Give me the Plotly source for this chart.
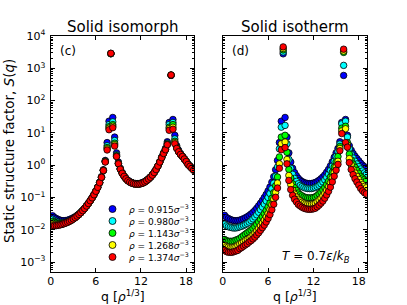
import plotly.graph_objects as go

# ---------------- data ----------------
q = [0.25, 0.5, 0.75, 1.0, 1.25, 1.5, 1.75, 2.0, 2.25, 2.5,
     2.75, 3.0, 3.25, 3.5, 3.75, 4.0, 4.25, 4.5, 4.75, 5.0,
     5.25, 5.5, 5.75, 6.0, 6.25, 6.5, 6.75, 7.0, 7.25, 7.5,
     7.75, 8.0, 8.25, 8.5, 8.75, 9.0, 9.25, 9.5, 9.75, 10.0,
     10.25, 10.5, 10.75, 11.0, 11.25, 11.5, 11.75, 12.0, 12.25, 12.5,
     12.75, 13.0, 13.25, 13.5, 13.75, 14.0, 14.25, 14.5, 14.75, 15.0,
     15.25, 15.5, 15.75, 16.0, 16.25, 16.5, 16.75, 17.0, 17.25, 17.5,
     17.75, 18.0, 18.25, 18.5, 18.75, 19.0]

densities = ["0.915", "0.980", "1.143", "1.268", "1.374"]
colors = ["#0000ff", "#00ffff", "#00ff00", "#ffff00", "#ff0000"]
y_exponents = [-3, -2, -1, 0, 1, 2, 3, 4]
x_ticks = [0, 6, 12, 18]

# Solid isomorph, S(q)
isomorph_0915 = [0.027, 0.024, 0.0222, 0.0208, 0.0198, 0.0192, 0.0190, 0.0192, 0.0198, 0.0207,
                 0.0219, 0.0234, 0.0253, 0.0277, 0.0306, 0.0345, 0.0395, 0.046, 0.055, 0.066,
                 0.080, 0.099, 0.124, 0.159, 0.21, 0.295, 0.44, 0.72, 1.4, 5.0,
                 23.0, 2800, 30.0, 7.4, 2.4, 1.25, 0.80, 0.59, 0.47, 0.39,
                 0.34, 0.31, 0.29, 0.277, 0.27, 0.268, 0.27, 0.278, 0.29, 0.31,
                 0.34, 0.38, 0.43, 0.50, 0.60, 0.74, 0.95, 1.27, 1.75, 2.4,
                 3.3, 5.3, 21.0, 600, 26.0, 8.4, 4.0, 2.9, 2.3, 1.9,
                 1.6, 1.34, 1.1, 0.95, 0.83, 0.73]
isomorph_0980 = [0.021, 0.0192, 0.018, 0.0172, 0.0167, 0.0165, 0.0166, 0.0171, 0.0178, 0.0189,
                 0.0202, 0.0220, 0.0242, 0.0268, 0.0300, 0.0340, 0.0392, 0.0457, 0.0543, 0.0652,
                 0.0793, 0.0973, 0.1215, 0.156, 0.206, 0.287, 0.425, 0.70, 1.33, 4.0,
                 18.0, 2850, 22.0, 5.8, 2.1, 1.15, 0.77, 0.57, 0.46, 0.385,
                 0.335, 0.305, 0.285, 0.272, 0.264, 0.262, 0.264, 0.272, 0.285, 0.305,
                 0.335, 0.375, 0.425, 0.495, 0.595, 0.735, 0.945, 1.26, 1.72, 2.35,
                 3.1, 4.8, 18.0, 610, 21.0, 6.5, 3.6, 2.7, 2.2, 1.87,
                 1.57, 1.32, 1.07, 0.94, 0.82, 0.72]
isomorph_1143 = [0.018, 0.0167, 0.016, 0.0156, 0.0154, 0.0155, 0.0158, 0.0165, 0.0174, 0.0186,
                 0.0200, 0.0218, 0.0240, 0.0266, 0.0299, 0.0339, 0.0391, 0.0456, 0.054, 0.065,
                 0.079, 0.097, 0.121, 0.155, 0.205, 0.285, 0.42, 0.69, 1.3, 3.5,
                 15.5, 2870, 18.0, 4.8, 1.95, 1.12, 0.76, 0.565, 0.455, 0.383,
                 0.333, 0.302, 0.282, 0.27, 0.262, 0.26, 0.262, 0.27, 0.282, 0.302,
                 0.333, 0.372, 0.423, 0.493, 0.593, 0.733, 0.943, 1.26, 1.71, 2.33,
                 3.05, 4.5, 15.0, 615, 18.0, 5.5, 3.5, 2.65, 2.18, 1.86,
                 1.56, 1.31, 1.06, 0.93, 0.81, 0.71]
isomorph_1268 = [0.015, 0.0145, 0.0143, 0.0143, 0.0145, 0.0149, 0.0155, 0.0163, 0.0172, 0.0184,
                 0.0198, 0.0216, 0.0237, 0.0264, 0.0297, 0.0338, 0.0390, 0.0455, 0.054, 0.065,
                 0.079, 0.097, 0.121, 0.155, 0.205, 0.285, 0.42, 0.68, 1.27, 3.2,
                 14.0, 2880, 16.0, 4.3, 1.9, 1.1, 0.75, 0.56, 0.45, 0.38,
                 0.33, 0.30, 0.28, 0.268, 0.26, 0.258, 0.26, 0.268, 0.28, 0.30,
                 0.33, 0.37, 0.42, 0.49, 0.59, 0.73, 0.94, 1.25, 1.7, 2.3,
                 3.0, 4.4, 13.5, 615, 15.0, 5.0, 3.4, 2.6, 2.15, 1.85,
                 1.55, 1.3, 1.05, 0.92, 0.80, 0.70]
isomorph_1374 = [0.0131, 0.0132, 0.0134, 0.0137, 0.0141, 0.0146, 0.0153, 0.0161, 0.0171, 0.0183,
                 0.0197, 0.0215, 0.0237, 0.0264, 0.0297, 0.0338, 0.0390, 0.0455, 0.054, 0.065,
                 0.079, 0.097, 0.121, 0.155, 0.205, 0.285, 0.42, 0.68, 1.25, 2.95,
                 12.5, 2900, 14.5, 3.9, 1.85, 1.1, 0.75, 0.56, 0.45, 0.38,
                 0.33, 0.30, 0.28, 0.268, 0.26, 0.258, 0.26, 0.268, 0.28, 0.30,
                 0.33, 0.37, 0.42, 0.49, 0.59, 0.73, 0.94, 1.25, 1.7, 2.3,
                 3.0, 4.3, 12.0, 620, 13.0, 4.6, 3.3, 2.6, 2.15, 1.85,
                 1.55, 1.3, 1.05, 0.92, 0.80, 0.70]

# Solid isotherm (T = 0.7), S(q)
isotherm_0915 = [0.028, 0.024, 0.0222, 0.0208, 0.0198, 0.0192, 0.0190, 0.0192, 0.0198, 0.0207,
                 0.0219, 0.0234, 0.0253, 0.0277, 0.0306, 0.0345, 0.0395, 0.046, 0.055, 0.066,
                 0.080, 0.099, 0.124, 0.159, 0.21, 0.295, 0.44, 0.72, 1.4, 5.0,
                 23.0, 2800, 30.0, 7.4, 2.4, 1.25, 0.80, 0.59, 0.47, 0.39,
                 0.34, 0.31, 0.29, 0.277, 0.27, 0.268, 0.27, 0.278, 0.29, 0.31,
                 0.34, 0.38, 0.43, 0.50, 0.60, 0.74, 0.95, 1.27, 1.75, 2.4,
                 3.3, 5.3, 21.0, 600, 26.0, 8.4, 4.0, 2.9, 2.3, 1.9,
                 1.6, 1.36, 1.15, 1.0, 0.9, 0.82]
isotherm_0980 = [0.0148, 0.0132, 0.0124, 0.0119, 0.0115, 0.0113, 0.0114, 0.0117, 0.0123, 0.0128,
                 0.0136, 0.0145, 0.0157, 0.0172, 0.0193, 0.0217, 0.0249, 0.029, 0.0347, 0.0416,
                 0.0504, 0.0624, 0.078, 0.100, 0.132, 0.186, 0.277, 0.454, 0.88, 3.2,
                 15.0, 3200, 17.0, 4.6, 1.51, 0.80, 0.52, 0.39, 0.315, 0.265,
                 0.235, 0.217, 0.203, 0.194, 0.189, 0.188, 0.189, 0.195, 0.203, 0.217,
                 0.238, 0.266, 0.301, 0.35, 0.42, 0.525, 0.684, 0.94, 1.33, 1.87,
                 2.64, 4.5, 19.0, 1230, 23.0, 7.4, 3.2, 2.18, 1.66, 1.33,
                 1.09, 0.90, 0.76, 0.66, 0.58, 0.52]
isotherm_1143 = [0.0050, 0.0046, 0.0044, 0.0044, 0.0044, 0.0045, 0.0048, 0.0050, 0.0054, 0.0060,
                 0.0066, 0.0073, 0.0081, 0.0089, 0.0098, 0.0110, 0.0126, 0.0147, 0.0176, 0.0211,
                 0.0256, 0.0317, 0.0397, 0.0509, 0.0672, 0.0944, 0.141, 0.230, 0.43, 1.8,
                 7.4, 3700, 8.4, 2.5, 0.74, 0.40, 0.264, 0.20, 0.165, 0.137,
                 0.122, 0.112, 0.104, 0.0997, 0.0972, 0.0965, 0.0972, 0.100, 0.104, 0.115,
                 0.129, 0.148, 0.172, 0.205, 0.252, 0.318, 0.43, 0.60, 0.88, 1.27,
                 1.85, 3.8, 14.0, 3100, 16.0, 5.0, 2.2, 1.45, 1.08, 0.86,
                 0.69, 0.56, 0.45, 0.40, 0.36, 0.33]
isotherm_1268 = [0.0033, 0.0030, 0.0029, 0.0028, 0.0028, 0.0029, 0.0030, 0.0033, 0.0036, 0.0039,
                 0.0043, 0.0047, 0.0051, 0.0055, 0.0061, 0.0069, 0.0079, 0.0092, 0.0110, 0.0132,
                 0.0160, 0.0198, 0.0248, 0.0318, 0.042, 0.059, 0.088, 0.144, 0.28, 1.1,
                 4.6, 4100, 5.2, 1.5, 0.48, 0.25, 0.168, 0.127, 0.103, 0.0878,
                 0.0782, 0.0713, 0.0667, 0.0637, 0.0621, 0.0616, 0.0621, 0.064, 0.0667, 0.0744,
                 0.0833, 0.095, 0.112, 0.135, 0.168, 0.215, 0.285, 0.41, 0.60, 0.89,
                 1.32, 3.3, 11.5, 3400, 13.4, 4.2, 1.6, 1.02, 0.74, 0.57,
                 0.45, 0.36, 0.29, 0.25, 0.22, 0.20]
isotherm_1374 = [0.0023, 0.0021, 0.0020, 0.0020, 0.0020, 0.0021, 0.0022, 0.0023, 0.0026, 0.0028,
                 0.0031, 0.0034, 0.0037, 0.0042, 0.0046, 0.0052, 0.0059, 0.0069, 0.0080, 0.0096,
                 0.0116, 0.0139, 0.0174, 0.0223, 0.0294, 0.0413, 0.0616, 0.101, 0.196, 0.8,
                 3.0, 4600, 3.5, 1.1, 0.336, 0.175, 0.116, 0.0885, 0.0729, 0.0605,
                 0.0544, 0.0496, 0.0464, 0.0443, 0.0432, 0.0429, 0.0432, 0.0445, 0.0464, 0.0512,
                 0.0578, 0.0665, 0.0774, 0.095, 0.12, 0.155, 0.209, 0.305, 0.455, 0.70,
                 1.06, 2.8, 9.5, 3900, 5.0, 3.6, 1.2, 0.73, 0.51, 0.38,
                 0.30, 0.24, 0.19, 0.16, 0.14, 0.13]

isomorph = [isomorph_0915, isomorph_0980, isomorph_1143, isomorph_1268, isomorph_1374]
isotherm = [isotherm_0915, isotherm_0980, isotherm_1143, isotherm_1268, isotherm_1374]

# ---------------- figure ----------------
W, H = 407, 305
FONT = "DejaVu Sans"

fig = go.Figure()
for vals, col in zip(isomorph, colors):
    fig.add_trace(go.Scatter(x=q, y=vals, mode="markers", xaxis="x", yaxis="y",
                             marker=dict(size=6.5, color=col, line=dict(color="black", width=0.8)),
                             showlegend=False, hoverinfo="skip"))
for vals, col in zip(isotherm, colors):
    fig.add_trace(go.Scatter(x=q, y=vals, mode="markers", xaxis="x2", yaxis="y2",
                             marker=dict(size=6.5, color=col, line=dict(color="black", width=0.8)),
                             showlegend=False, hoverinfo="skip"))

ytickvals = [10.0 ** e for e in y_exponents]
yticktext = ["10<sup>%s</sup>" % (str(e).replace("-", "−")) for e in y_exponents]

common = dict(showline=True, linecolor="black", linewidth=1, mirror="ticks",
              ticks="inside", ticklen=4, tickwidth=1, tickcolor="black",
              showgrid=False, zeroline=False, automargin=False,
              tickfont=dict(family=FONT, size=11, color="black"))
xcommon = dict(range=[0, 19.05], tickvals=x_ticks, ticktext=[str(t) for t in x_ticks],
               ticklabelstandoff=-1, **common)
ycommon = dict(type="log", range=[-3.301, 4], tickvals=ytickvals, ticktext=yticktext,
               ticklabelstandoff=2,
               minor=dict(ticks="inside", ticklen=2, dtick="D1", tickcolor="black"),
               **common)

ydom = [0.109, 0.882]
fig.update_layout(
    width=W, height=H, margin=dict(l=0, r=0, t=0, b=0, autoexpand=False),
    paper_bgcolor="white", plot_bgcolor="white", showlegend=False,
    font=dict(family=FONT, color="black"),
    xaxis=dict(domain=[0.1246, 0.4767], anchor="y", **xcommon),
    yaxis=dict(domain=ydom, anchor="x", **ycommon),
    xaxis2=dict(domain=[0.5472, 0.9010], anchor="y2", **xcommon),
    yaxis2=dict(domain=ydom, anchor="x2", showticklabels=False, **ycommon),
)

def px(x, y):
    return x / W, 1 - y / H

anns = []
def add_text(text, x, y, size, xanchor="center", yanchor="middle", angle=0):
    ax, ay = px(x, y)
    anns.append(dict(text=text, x=ax, y=ay, xref="paper", yref="paper",
                     xanchor=xanchor, yanchor=yanchor, showarrow=False, textangle=angle,
                     font=dict(family=FONT, size=size, color="black")))

add_text("Solid isomorph", 122.5, 27.5, 15)
add_text("Solid isotherm", 294.5, 27.5, 15)
add_text("(c)", 68, 51, 12)
add_text("(d)", 240, 51, 12)
add_text("q [<i>ρ</i><sup>1/3</sup>]", 123, 296, 12.5)
add_text("q [<i>ρ</i><sup>1/3</sup>]", 295, 296, 12.5)
add_text("Static structure factor, <i>S</i>(<i>q</i>)", 9, 151, 13.5, angle=-90)
add_text("<i>T</i> = 0.7<i>ε</i>/<i>k</i><sub><i>B</i></sub>", 315.5, 257, 12)

# legend (drawn as layout shapes + text)
shapes = []
for i, (d, col) in enumerate(zip(densities, colors)):
    ypx = 209 + 12 * i
    ax, ay = px(112.5, ypx)
    shapes.append(dict(type="circle", xref="paper", yref="paper",
                       xsizemode="pixel", ysizemode="pixel",
                       xanchor=ax, yanchor=ay, x0=-3.5, x1=3.5, y0=-3.5, y1=3.5,
                       fillcolor=col, line=dict(color="black", width=0.8)))
    add_text("<i>ρ</i> = %s<i>σ</i><sup>−3</sup>" % d, 127, ypx, 9, xanchor="left")

fig.update_layout(annotations=anns, shapes=shapes)
fig.write_html("out.html", config={"displayModeBar": False, "staticPlot": True},
               post_script="document.body.style.margin='0';")
